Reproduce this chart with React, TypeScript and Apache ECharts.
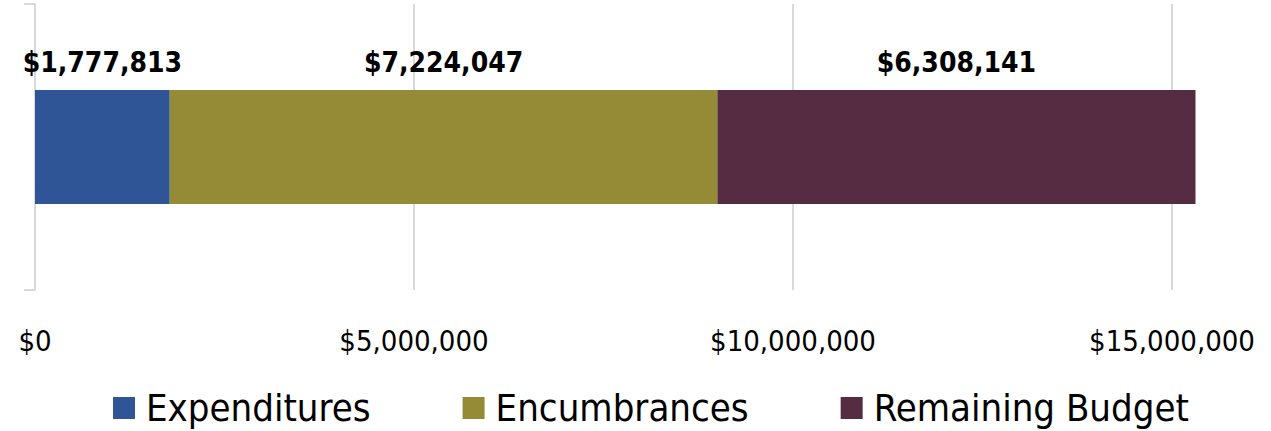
import React, { useEffect, useRef } from "react";
import * as echarts from "echarts";

const categories = ["Budget"];
const seriesNames = ["Expenditures", "Encumbrances", "Remaining Budget"];
const seriesValues = [1777813, 7224047, 6308141];
const seriesColors = ["#2F5597", "#958B37", "#552C41"];
const axisTicks = [0, 5000000, 10000000, 15000000];

const FONT = "'Liberation Sans Narrow', 'DejaVu Sans Condensed', 'Liberation Sans', sans-serif";
const money = (v: number) => "$" + Math.round(v).toLocaleString("en-US");

export default function App() {
  const ref = useRef<HTMLDivElement>(null);
  useEffect(() => {
    document.body.style.margin = "0";
    if (!ref.current) return;
    const chart = echarts.init(ref.current, undefined, { renderer: "svg" });
    chart.setOption({
      animation: false,
      textStyle: { fontFamily: FONT },
      grid: { left: 35, top: 4, width: 1137, height: 286 },
      legend: {
        left: 108,
        top: 384,
        icon: "rect",
        itemWidth: 22,
        itemHeight: 22,
        itemGap: 92,
        textStyle: { fontFamily: FONT, fontSize: 38, color: "#000", padding: [0, 0, 0, 6] },
        data: seriesNames,
      },
      xAxis: {
        type: "value",
        min: axisTicks[0],
        max: axisTicks[axisTicks.length - 1],
        interval: axisTicks[1] - axisTicks[0],
        axisLine: { show: false },
        axisTick: { show: false },
        splitLine: { lineStyle: { color: "#d9d9d9", width: 2 } },
        axisLabel: {
          formatter: (v: number) => money(v),
          fontFamily: FONT,
          fontSize: 29,
          color: "#000",
          margin: 36,
        },
      },
      yAxis: {
        type: "category",
        data: categories,
        axisLine: { show: true, lineStyle: { color: "#d9d9d9", width: 2 } },
        axisTick: { show: true, length: 11, lineStyle: { color: "#d9d9d9", width: 2 } },
        axisLabel: { show: false },
        splitLine: { show: false },
      },
      series: seriesNames.map((name, i) => ({
        name,
        type: "bar",
        stack: "total",
        barWidth: 114,
        clip: false,
        itemStyle: { color: seriesColors[i] },
        label: {
          show: true,
          position: "top",
          distance: 14,
          formatter: (p: any) => money(p.value),
          fontFamily: FONT,
          fontSize: 28,
          fontWeight: "bold",
          color: "#000",
        },
        data: [seriesValues[i]],
      })),
    });
    return () => chart.dispose();
  }, []);
  return <div ref={ref} style={{ width: 1271, height: 431 }} />;
}
